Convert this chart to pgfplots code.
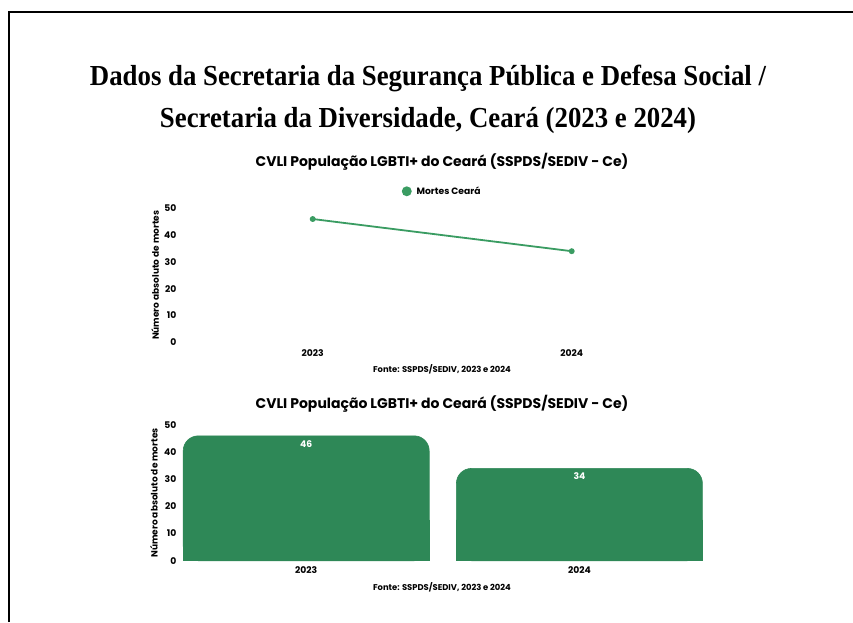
\documentclass[border=0pt]{standalone}
\usepackage{fontspec}
\setmainfont{Poppins}
\newfontfamily\titlefont[FakeStretch=0.924]{Liberation Serif}
\usepackage{pgfplots}
\pgfplotsset{compat=1.18}
\definecolor{barg}{HTML}{2E8857}
\definecolor{lineg}{HTML}{3A9C62}
\begin{document}
\begin{tikzpicture}
\useasboundingbox (0pt,0pt) rectangle (853pt,622pt);
\fill[white] (0pt,0pt) rectangle (853pt,622pt);
\draw[line width=2pt] (8.5pt,0pt) -- (8.5pt,610pt) -- (853pt,610pt);
\node[anchor=base, inner sep=0pt, font=\titlefont\bfseries\fontsize{29}{34}\selectfont] at (428pt,536pt) {Dados da Secretaria da Segurança Pública e Defesa Social /};
\node[anchor=base, inner sep=0pt, font=\titlefont\bfseries\fontsize{29}{34}\selectfont] at (428pt,494pt) {Secretaria da Diversidade, Ceará (2023 e 2024)};
\node[font=\bfseries\fontsize{14}{16}\selectfont] at (442pt,460pt) {CVLI População LGBTI+ do Ceará (SSPDS/SEDIV - Ce)};
\node[font=\bfseries\fontsize{8.4}{10}\selectfont] at (442pt,253pt) {Fonte: SSPDS/SEDIV, 2023 e 2024};
\node[font=\bfseries\fontsize{14}{16}\selectfont] at (442pt,218pt) {CVLI População LGBTI+ do Ceará (SSPDS/SEDIV - Ce)};
\node[font=\bfseries\fontsize{8.4}{10}\selectfont] at (442pt,35pt) {Fonte: SSPDS/SEDIV, 2023 e 2024};

\begin{axis}[at={(183.2pt,279.7pt)}, anchor=south west, scale only axis,
  width=518pt, height=134pt,
  xmin=-0.5, xmax=1.5, ymin=0, ymax=50,
  xtick={0,1}, xticklabels={2023,2024}, ytick={0,10,20,30,40,50},
  axis line style={draw=none}, major tick length=0pt,
  tick label style={font=\bfseries\fontsize{9.2}{11}\selectfont},
  yticklabel style={xshift=-3.4pt},
  xticklabel style={yshift=-4pt},
  /pgf/number format/assume math mode=true,
  ylabel={Número absoluto de mortes},
  every axis y label/.style={at={(axis description cs:-0.054,0.5)}, rotate=90, anchor=center, font=\bfseries\fontsize{9}{11}\selectfont},
  legend style={at={(axis description cs:0.5,1.127)}, anchor=center, draw=none, fill=none, font=\bfseries\fontsize{9.2}{11}\selectfont},
  legend image code/.code={\fill[lineg] (0pt,0pt) circle (4pt); \path (7pt,0pt);},
  clip=false]
\addplot[lineg, line width=1.8pt, mark=*, mark size=2pt] coordinates {(0,46) (1,34)};
\addlegendentry{Mortes Ceará}
\end{axis}

\begin{axis}[at={(169.6pt,61.3pt)}, anchor=south west, scale only axis,
  width=546.4pt, height=135.7pt,
  xmin=-0.5, xmax=1.5, ymin=0, ymax=50,
  ybar, bar width=246pt, bar shift=0pt,
  xtick={0,1}, xticklabels={2023,2024}, ytick={0,10,20,30,40,50},
  axis line style={draw=none}, major tick length=0pt,
  tick label style={font=\bfseries\fontsize{9.2}{11}\selectfont},
  yticklabel style={xshift=10.2pt},
  xticklabel style={yshift=-2.5pt},
  /pgf/number format/assume math mode=true,
  ylabel={Número absoluto de mortes},
  every axis y label/.style={at={(axis description cs:-0.0286,0.5)}, rotate=90, anchor=center, font=\bfseries\fontsize{9}{11}\selectfont},
  clip=false]
\addplot[fill=barg, draw=barg, line width=0.6pt, rounded corners=15pt,
  nodes near coords,
  every node near coord/.append style={anchor=north, yshift=-1pt, text=white, font=\bfseries\fontsize{9.2}{11}\selectfont},
  /pgf/number format/assume math mode=true] coordinates {(0,46) (1,34)};
\addplot[fill=barg, draw=barg, line width=0.6pt] coordinates {(0,15) (1,15)};
\end{axis}
\end{tikzpicture}
\end{document}
